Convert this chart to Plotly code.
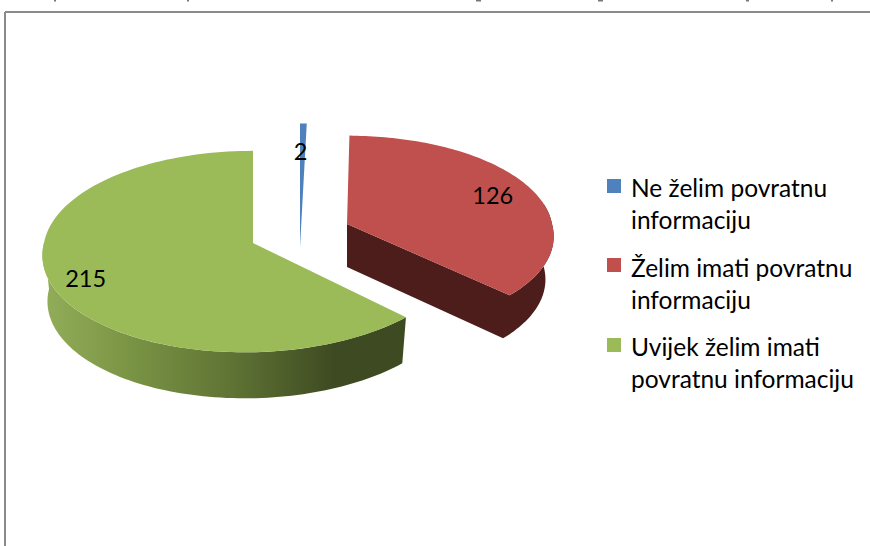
import numpy as np
import plotly.graph_objects as go

categories = ["Ne želim povratnu<br>informaciju", "Želim imati povratnu<br>informaciju", "Uvijek želim imati<br>povratnu informaciju"]
values = [2, 126, 215]
top_colors = ["#4f81bd", "#c0504d", "#9bbb59"]

FONT = "Lato"
K = 0.085

# per-slice exploded geometry: centre, radii, depth, front/back skew, label radius and nudge
geo = [
    dict(cx=300, cy=247, rx=200, ry=134, depth=0, sk=0, bk=0, lab=0.75, ly=0, lx=-2),
    dict(cx=347, cy=224, rx=205, ry=96, depth=43, sk=9, bk=-5, lab=0.79, ly=1, lx=0),
    dict(cx=253, cy=243, rx=209, ry=100, depth=46, sk=-8, bk=0, lab=0.84, ly=4, lx=0, shrink=0.976),
]
geo[1]["shrink"] = 0.96
total = sum(values)
edges = np.cumsum([0] + values) / total * 2 * np.pi


def pt(g, th, low=False):
    th = np.asarray(th, float)
    c = np.cos(th)
    p = 1 / (1 + K * c)
    s = g.get("shrink", 1) if low else 1
    x = g["cx"] + s * p * (g["rx"] * np.sin(th) + g["sk"] * np.maximum(0, -c) + g["bk"] * np.maximum(0, c) ** 40)
    y = g["cy"] - g["ry"] * c * p + (g["depth"] if low else 0)
    return x, y


fig = go.Figure()

# red extruded body
g = geo[1]
ths = np.linspace(edges[2], np.radians(78), 60)
x1, y1 = pt(g, ths)
x2, y2 = pt(g, ths[::-1], True)
fig.add_trace(go.Scatter(
    x=[g["cx"], *x1, *x2, g["cx"]], y=[g["cy"], *y1, *y2, g["cy"] + g["depth"]],
    fill="toself", mode="none", fillcolor="#4c1d1b", showlegend=False, hoverinfo="skip"))

# green extruded body, shaded left to right
g = geo[2]
ths = np.linspace(edges[2], 3 * np.pi / 2, 90)
x1, y1 = pt(g, ths)
x2, y2 = pt(g, ths[::-1], True)
fig.add_trace(go.Scatter(
    x=[*x1, *x2], y=[*y1, *y2], fill="toself", mode="none",
    fillgradient=dict(type="horizontal", start=42, stop=335,
                      colorscale=[[0, "#93ae59"], [0.3, "#7a9445"], [0.65, "#5f7334"], [1, "#3e4a22"]]),
    showlegend=False, hoverinfo="skip"))

# top faces
for i, g in enumerate(geo):
    ths = np.linspace(edges[i], edges[i + 1], 120)
    x, y = pt(g, ths)
    fig.add_trace(go.Scatter(
        x=[g["cx"], *x, g["cx"]], y=[g["cy"], *y, g["cy"]], fill="toself", mode="none",
        fillcolor=top_colors[i], showlegend=False, hoverinfo="skip"))

# data labels
for i, g in enumerate(geo):
    mid = (edges[i] + edges[i + 1]) / 2
    c = np.cos(mid)
    p = 1 / (1 + K * c)
    fig.add_trace(go.Scatter(
        x=[g["cx"] + g["lx"] + g["lab"] * p * g["rx"] * np.sin(mid)],
        y=[g["cy"] + g["ly"] - g["lab"] * p * g["ry"] * c],
        mode="text", text=[str(values[i])], textposition="middle center",
        textfont=dict(family=FONT, size=23.5, color="#000000"),
        showlegend=False, hoverinfo="skip"))

# legend entries (swatches sit beside the first text line, drawn as shapes below)
for i, cat in enumerate(categories):
    fig.add_trace(go.Scatter(
        x=[None], y=[None], mode="markers", name=cat,
        legendgroup=str(i), marker=dict(symbol="square", size=1, color="rgba(255,255,255,0)", line=dict(width=0))))

# frame
frame = dict(color="#8a8a8a", width=2)
shapes = [
    dict(type="line", x0=5, x1=870, y0=12, y1=12, line=frame),
    dict(type="line", x0=5, x1=5, y0=12, y1=546, line=frame),
]
for col, top in zip(top_colors, [179, 258, 338]):
    shapes.append(dict(type="rect", x0=607, x1=621, y0=top, y1=top + 14,
                       fillcolor=col, line=dict(width=0)))
# descenders of the cropped text line along the top edge
for xa, xb in [(54, 56), (187, 189), (476, 481), (598, 603), (746, 749), (831, 833)]:
    shapes.append(dict(type="rect", x0=xa, x1=xb, y0=0, y1=1.5,
                       fillcolor="#777777", line=dict(width=0)))

fig.update_layout(
    width=870, height=546, margin=dict(l=0, r=0, t=0, b=0),
    paper_bgcolor="#ffffff", plot_bgcolor="#ffffff",
    xaxis=dict(range=[0, 870], visible=False, fixedrange=True),
    yaxis=dict(range=[546, 0], visible=False, fixedrange=True),
    shapes=shapes,
    legend=dict(x=591 / 870, y=1 - 165 / 546, xanchor="left", yanchor="top",
                font=dict(family=FONT, size=24.5, color="#000000"),
                tracegroupgap=13, itemwidth=30, bgcolor="rgba(0,0,0,0)"),
)
fig.write_html("out.html", config={"displayModeBar": False},
               post_script="document.body.style.margin='0';")
